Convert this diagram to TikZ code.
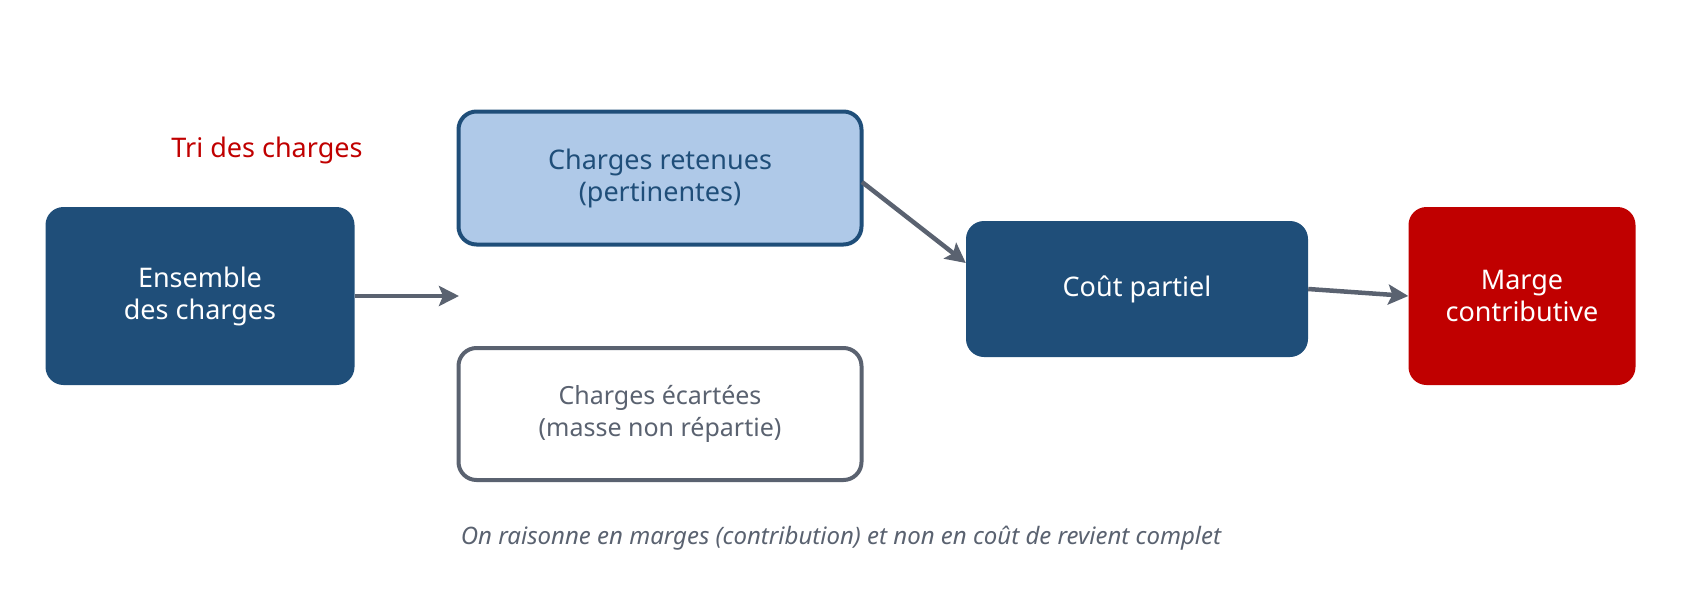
\documentclass[tikz,border=0pt]{standalone}
\usepackage{fontspec}
\setmainfont{Noto Sans}
\usetikzlibrary{arrows.meta}
\definecolor{navy}{HTML}{1F4E79}
\definecolor{light}{HTML}{AFC9E8}
\definecolor{grey}{HTML}{5A6270}
\definecolor{rouge}{HTML}{C00000}
\begin{document}
\begin{tikzpicture}[x=1pt,y=-1pt,
  box/.style={rounded corners=18pt,inner sep=0pt,align=center,font=\fontsize{27}{32}\selectfont\bfseries},
  dark/.style={box,fill=navy,text=white},
  arr/.style={draw=grey,line width=4.5pt,-{Stealth[length=20pt,width=20pt,inset=4pt]}}]
\useasboundingbox (0,0) rectangle (1683,594);
\node[dark,minimum width=309pt,minimum height=178pt] (ens) at (200,296) {Ensemble\\des charges};
\node[box,fill=light,draw=navy,line width=4pt,text=navy,minimum width=403pt,minimum height=133pt] (ret) at (660,178) {Charges retenues\\(pertinentes)};
\node[box,fill=white,draw=grey,line width=4pt,text=grey,minimum width=403pt,minimum height=132pt,font=\fontsize{25}{32}\selectfont] (eca) at (660,414) {Charges écartées\\(masse non répartie)};
\node[dark,minimum width=342pt,minimum height=136pt] (cout) at (1137,289) {Coût partiel};
\node[box,fill=rouge,text=white,minimum width=227pt,minimum height=178pt] (marge) at (1522,296) {Marge\\contributive};
\node[text=rouge,font=\fontsize{27}{32}\selectfont\bfseries] (tri) at (267,150) {Tri des charges};
\node[text=grey,font=\fontsize{24}{30}\selectfont\itshape] (foot) at (841,538) {On raisonne en marges (contribution) et non en coût de revient complet};
\coordinate (tgt) at (459,296);
\draw[arr] (ens.east) -- (tgt);
\draw[arr] (862,182) -- (cout.north west |- 0,263) ;
\draw[arr] (cout.east) -- (marge.west);
\end{tikzpicture}
\end{document}
